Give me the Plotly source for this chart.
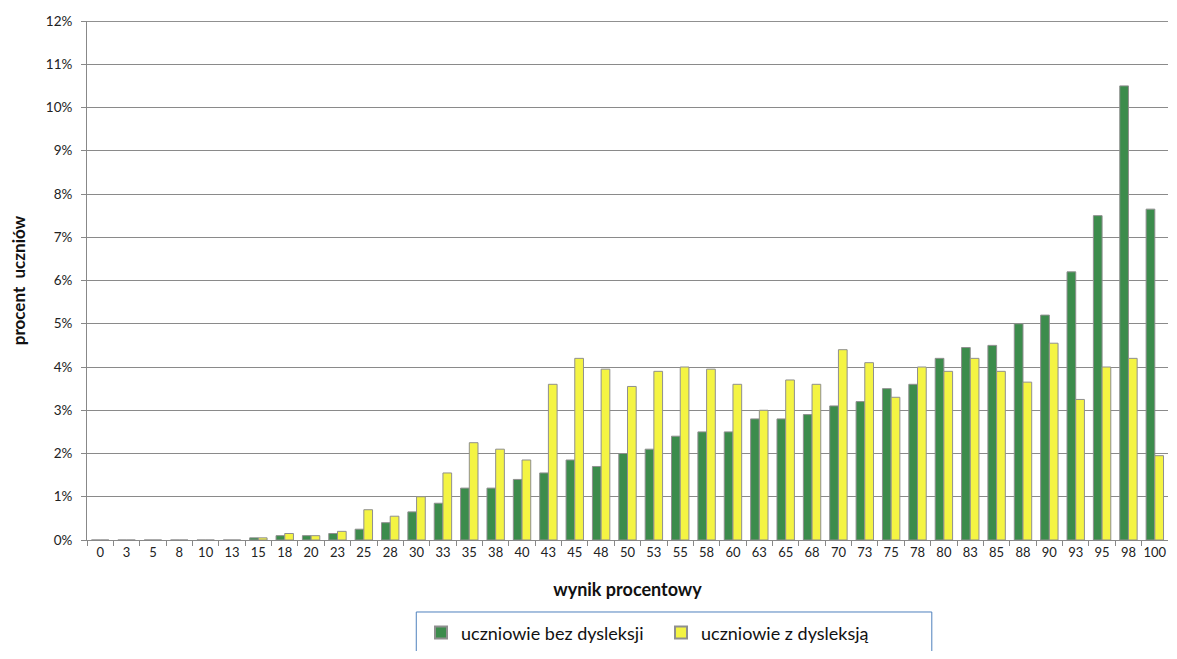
import plotly.graph_objects as go

categories = ["0","3","5","8","10","13","15","18","20","23","25","28","30","33","35","38","40",
              "43","45","48","50","53","55","58","60","63","65","68","70","73","75","78","80",
              "83","85","88","90","93","95","98","100"]

bez_dysleksji = [0,0,0,0,0,0,0.05,0.1,0.1,0.15,0.25,0.4,0.65,0.85,1.2,1.2,1.4,
                 1.55,1.85,1.7,2.0,2.1,2.4,2.5,2.5,2.8,2.8,2.9,3.1,3.2,3.5,3.6,4.2,
                 4.45,4.5,5.0,5.2,6.2,7.5,10.5,7.65]

z_dysleksja = [0,0,0,0,0,0,0.05,0.15,0.1,0.2,0.7,0.55,1.0,1.55,2.25,2.1,1.85,
               3.6,4.2,3.95,3.55,3.9,4.0,3.95,3.6,3.0,3.7,3.6,4.4,4.1,3.3,4.0,3.9,
               4.2,3.9,3.65,4.55,3.25,4.0,4.2,1.95]

series_names = ["uczniowie bez dysleksji", "uczniowie z dysleksją"]

FONT = "Lato, 'Open Sans', sans-serif"

fig = go.Figure()
fig.add_trace(go.Bar(x=categories, y=[v/100 for v in bez_dysleksji], name=series_names[0],
                     marker=dict(color="#3c8c4c", line=dict(color="#8f8f8f", width=1))))
fig.add_trace(go.Bar(x=categories, y=[v/100 for v in z_dysleksja], name=series_names[1],
                     marker=dict(color="#f4f443", line=dict(color="#8f8f8f", width=1))))

fig.update_layout(
    width=1160, height=643,
    margin=dict(l=79, r=0, t=13, b=111, autoexpand=False),
    paper_bgcolor="white", plot_bgcolor="white",
    barmode="group", bargap=0.34, bargroupgap=0.0,
    font=dict(family=FONT, size=13, color="#222"),
    showlegend=True,
    legend=dict(orientation="h", x=0.309, xanchor="left", y=-0.179, yanchor="middle",
                font=dict(size=18, color="#111"), bgcolor="rgba(0,0,0,0)",
                borderwidth=0, itemsizing="constant", entrywidth=195, entrywidthmode="pixels",
                traceorder="normal", itemwidth=30),
    xaxis=dict(type="category", showgrid=False, ticks="outside", tickson="boundaries",
               ticklen=5, tickcolor="#888", showline=True, linecolor="#888", linewidth=1,
               tickangle=0, automargin=False,
               tickfont=dict(size=13, color="#222"),
               title=dict(text="<b>wynik procentowy</b>", font=dict(size=18, color="#111"), standoff=24)),
    yaxis=dict(range=[0, 0.12], dtick=0.01, tickformat=".0%", showgrid=True,
               gridcolor="#8a8a8a", gridwidth=1, ticks="outside", ticklen=5, tickcolor="#888",
               showline=True, linecolor="#888", linewidth=1, zeroline=False, automargin=False,
               ticklabelstandoff=6,
               tickfont=dict(size=13.5, color="#222"),
               title=dict(text="<b>procent  uczniów</b>", font=dict(size=17, color="#111"), standoff=36)),
    shapes=[
        dict(type="line", xref="paper", yref="y", x0=0, x1=1, y0=0.12, y1=0.12,
             line=dict(color="#222", width=1)),
        dict(type="rect", xref="paper", yref="paper", x0=0.3046, x1=0.7815, y0=-0.1387, y1=-0.25,
             line=dict(color="#4f81bd", width=1), fillcolor="rgba(0,0,0,0)", layer="below"),
    ],
)

fig.write_html("out.html")
